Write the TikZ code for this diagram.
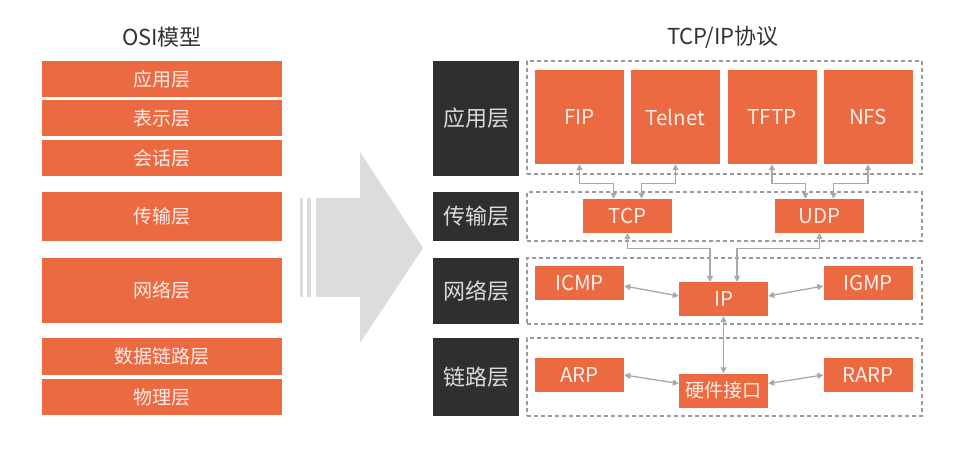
\documentclass[tikz,border=0pt]{standalone}
\usepackage{fontspec}
\setmainfont{Noto Sans CJK SC}
\usetikzlibrary{arrows.meta}
\definecolor{naranja}{HTML}{EC6A42}
\definecolor{oscuro}{HTML}{2F2F2F}
\definecolor{flecha}{HTML}{DCDCDA}
\definecolor{linea}{HTML}{A9A9A9}
\definecolor{marco}{HTML}{9A9A9A}
\definecolor{titulo}{HTML}{333333}
\begin{document}
\begin{tikzpicture}[x=1pt, y=-1pt,
    osi/.style={fill=naranja, text=white!88!naranja, inner sep=0, minimum width=240pt,
        font=\fontsize{19}{19}\selectfont},
    capa/.style={fill=oscuro, text=white!82!oscuro, inner sep=0, minimum width=86pt,
        font=\fontsize{22}{22}\selectfont},
    marcobox/.style={draw=marco, line width=1.3pt, dash pattern=on 4pt off 3pt,
        inner sep=0, minimum width=395pt},
    proto/.style={fill=naranja, text=white!88!naranja, inner sep=0, minimum width=89pt,
        minimum height=34pt, font=\fontsize{20.5}{20.5}\selectfont},
    enlace/.style={draw=linea, line width=1.3pt,
        {Triangle[length=6pt,width=6pt]}-{Triangle[length=6pt,width=6pt]}}]
    \useasboundingbox (0,0) rectangle (964,462);
    % Títulos
    \node[text=titulo, font=\fontsize{22}{22}\selectfont] (tosi) at (162,37) {OSI模型};
    \node[text=titulo, font=\fontsize{22}{22}\selectfont] (ttcp) at (723,37) {TCP/IP协议};
    % Modelo OSI
    \node[osi, minimum height=36pt] (o1) at (162,79) {应用层};
    \node[osi, minimum height=36pt] (o2) at (162,118) {表示层};
    \node[osi, minimum height=36pt] (o3) at (162,158) {会话层};
    \node[osi, minimum height=49pt] (o4) at (162,216.5) {传输层};
    \node[osi, minimum height=65pt] (o5) at (162,290.5) {网络层};
    \node[osi, minimum height=37pt] (o6) at (162,356.5) {数据链路层};
    \node[osi, minimum height=36pt] (o7) at (162,397) {物理层};
    % Flecha grande
    \fill[flecha] (300,198) rectangle (303,297);
    \fill[flecha] (307,198) rectangle (311,297);
    \fill[flecha] (316,198) -- (360,198) -- (360,152) -- (423,248)
        -- (360,343) -- (360,297) -- (316,297) -- cycle;
    % Capas TCP/IP
    \node[capa, minimum height=115pt] (c1) at (476,118.5) {应用层};
    \node[capa, minimum height=49pt] (c2) at (476,216.5) {传输层};
    \node[capa, minimum height=66pt] (c3) at (476,291) {网络层};
    \node[capa, minimum height=78pt] (c4) at (476,377) {链路层};
    \node[marcobox, minimum height=113pt] (m1) at (724.5,117.5) {};
    \node[marcobox, minimum height=49pt] (m2) at (724.5,216.5) {};
    \node[marcobox, minimum height=66pt] (m3) at (724.5,291) {};
    \node[marcobox, minimum height=78pt] (m4) at (724.5,377) {};
    % Protocolos
    \node[proto, minimum height=94pt] (fip) at (579.5,117) {FIP};
    \node[proto, minimum height=94pt] (telnet) at (675.5,117) {Telnet};
    \node[proto, minimum height=94pt] (tftp) at (772,117) {TFTP};
    \node[proto, minimum height=94pt] (nfs) at (868,117) {NFS};
    \node[proto] (tcp) at (627.5,216) {TCP};
    \node[proto] (udp) at (819.5,216) {UDP};
    \node[proto] (icmp) at (579.5,283) {ICMP};
    \node[proto] (ip) at (723.5,299) {IP};
    \node[proto] (igmp) at (868,283) {IGMP};
    \node[proto] (arp) at (579.5,375) {ARP};
    \node[proto, font=\fontsize{19}{19}\selectfont] (hw) at (723.5,390.5) {硬件接口};
    \node[proto] (rarp) at (868,375) {RARP};
    % Conexiones
    \draw[enlace] (fip.south) -- ++(0,19) -| ([xshift=-14pt]tcp.north);
    \draw[enlace] (telnet.south) -- ++(0,19) -| ([xshift=14pt]tcp.north);
    \draw[enlace] (tftp.south) -- ++(0,19) -| ([xshift=-14pt]udp.north);
    \draw[enlace] (nfs.south) -- ++(0,19) -| ([xshift=14pt]udp.north);
    \draw[enlace] (tcp.south) -- ++(0,15) -| ([xshift=-13.5pt]ip.north);
    \draw[enlace] (udp.south) -- ++(0,15) -| ([xshift=13.5pt]ip.north);
    \draw[enlace] ([yshift=-3pt]icmp.east) -- ([yshift=3pt]ip.west);
    \draw[enlace] ([yshift=-3pt]igmp.west) -- ([yshift=3pt]ip.east);
    \draw[enlace] (ip.south) -- (hw.north);
    \draw[enlace] (arp.east) -- ([yshift=7pt]hw.west);
    \draw[enlace] (rarp.west) -- ([yshift=7pt]hw.east);
\end{tikzpicture}
\end{document}
